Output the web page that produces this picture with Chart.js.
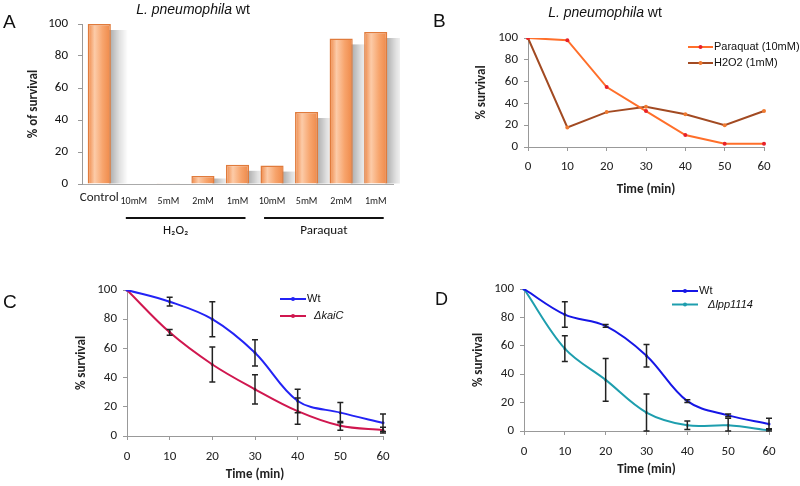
<!DOCTYPE html>
<html>
<head>
<meta charset="utf-8">
<script src="https://cdn.jsdelivr.net/npm/chart.js@4.4.1/dist/chart.umd.min.js"></script>
<style>
    body { margin: 0; background: #fff; }
    #wrap { position: relative; width: 800px; height: 486px; }
    canvas { position: absolute; }
</style>
</head>
<body>
<div id="wrap">
    <canvas id="chartA" width="400" height="245" style="left:0;top:0"></canvas>
    <canvas id="chartB" width="400" height="200" style="left:400px;top:0"></canvas>
    <canvas id="chartC" width="400" height="246" style="left:0;top:240px"></canvas>
    <canvas id="chartD" width="400" height="246" style="left:400px;top:240px"></canvas>
</div>
<script>
// --- dati ---
const aCategories = ["Control", "10mM", "5mM", "2mM", "1mM", "10mM", "5mM", "2mM", "1mM"];
const aSurvival = [100, 0, 0.5, 5, 12, 11.5, 45, 91, 95];
const aGroups = ["H\u2082O\u2082", "Paraquat"];

const timeLabels = ["0", "10", "20", "30", "40", "50", "60"];
const yTicks = [0, 20, 40, 60, 80, 100];

const bParaquat = [100, 98, 55, 33, 11, 3, 3];
const bH2O2 = [100, 18, 32, 37, 30, 20, 33];

const cWt = [100, 92, 80, 57, 24, 16, 9];
const cWtErr = [0, 3, 12, 9, 8, 7, 6];
const cKaiC = [100, 71, 49, 32, 17, 7, 4];
const cKaiCErr = [0, 2, 12, 10, 9, 3, 2];

const dWt = [100, 82, 74, 53, 21, 11, 5];
const dWtErr = [0, 9, 1, 8, 1, 1, 4];
const dLpp = [100, 58, 36, 13, 4, 4, 0.5];
const dLppErr = [0, 9, 15, 13, 3, 5, 1];

const FONT = "Carlito, Lato, 'Liberation Sans', sans-serif";
const ARIAL = "'Liberation Sans', Arial, sans-serif";

// lettera del pannello e titolo (parte in corsivo)
const panelDecor = {
    id: "panelDecor",
    afterDraw(chart, args, opts) {
        const ctx = chart.ctx;
        ctx.save();
        ctx.fillStyle = "#111";
        ctx.textAlign = "left";
        ctx.textBaseline = "alphabetic";
        ctx.font = opts.letterSize + "px " + ARIAL;
        ctx.fillText(opts.letter, opts.letterX, opts.letterY);
        if (opts.title) {
            const fonts = opts.title.map(p => (p[1] ? "italic " : "") + "14px " + ARIAL);
            const widths = opts.title.map((p, i) => { ctx.font = fonts[i]; return ctx.measureText(p[0]).width; });
            let x = opts.titleX - widths.reduce((a, b) => a + b, 0) / 2;
            ctx.textBaseline = "middle";
            opts.title.forEach((p, i) => {
                ctx.font = fonts[i];
                ctx.fillText(p[0], x, opts.titleY);
                x += widths[i];
            });
        }
        ctx.restore();
    }
};

// legenda stile Excel: linea con marcatore e testo
const lineLegend = {
    id: "lineLegend",
    afterDraw(chart, args, opts) {
        const ctx = chart.ctx;
        ctx.save();
        chart.data.datasets.forEach((ds, i) => {
            const y = opts.y + i * opts.rowGap;
            const x0 = opts.x, x1 = opts.x + opts.lineLen;
            ctx.strokeStyle = ds.borderColor;
            ctx.lineWidth = 2;
            ctx.beginPath();
            ctx.moveTo(x0, y);
            ctx.lineTo(x1, y);
            ctx.stroke();
            ctx.fillStyle = ds.pointBackgroundColor;
            ctx.beginPath();
            ctx.arc((x0 + x1) / 2, y, 2, 0, Math.PI * 2);
            ctx.fill();
            ctx.fillStyle = "#111";
            ctx.font = (ds.legendItalic ? "italic " : "") + "11px " + ARIAL;
            ctx.textBaseline = "middle";
            ctx.textAlign = "left";
            ctx.fillText(ds.label, x1 + (ds.legendGap || 1), y);
        });
        ctx.restore();
    }
};

// barre di errore
const errorBars = {
    id: "errorBars",
    afterDatasetsDraw(chart) {
        const ctx = chart.ctx, yScale = chart.scales.y, area = chart.chartArea;
        ctx.save();
        ctx.strokeStyle = "#222";
        ctx.lineWidth = 1.5;
        chart.data.datasets.forEach((ds, i) => {
            if (!ds.errors) return;
            const meta = chart.getDatasetMeta(i);
            ds.errors.forEach((err, j) => {
                if (!err) return;
                const x = meta.data[j].x;
                const v = ds.data[j];
                const top = yScale.getPixelForValue(v + err);
                const bot = Math.min(yScale.getPixelForValue(v - err), area.bottom);
                ctx.beginPath();
                ctx.moveTo(x, top);
                ctx.lineTo(x, bot);
                ctx.moveTo(x - 3, top);
                ctx.lineTo(x + 3, top);
                ctx.moveTo(x - 3, bot);
                ctx.lineTo(x + 3, bot);
                ctx.stroke();
            });
        });
        ctx.restore();
    }
};

// linee e nomi dei gruppi sotto l'asse x (pannello A)
const groupLabels = {
    id: "groupLabels",
    afterDraw(chart, args, opts) {
        const ctx = chart.ctx, x = chart.scales.x;
        ctx.save();
        opts.groups.forEach((g, i) => {
            const a = x.getPixelForTick(g.from) - opts.overhang;
            const b = x.getPixelForTick(g.to) + opts.overhang;
            ctx.strokeStyle = "#111";
            ctx.lineWidth = 2;
            ctx.beginPath();
            ctx.moveTo(a, opts.lineY);
            ctx.lineTo(b, opts.lineY);
            ctx.stroke();
            ctx.fillStyle = "#111";
            ctx.font = "13px " + FONT;
            ctx.textAlign = "center";
            ctx.textBaseline = "middle";
            ctx.fillText(aGroups[i], (a + b) / 2 + (g.shift || 0), opts.textY);
        });
        ctx.restore();
    }
};

// ombra grigia sfumata a destra di ogni barra
const barShadow = {
    id: "barShadow",
    beforeDatasetsDraw(chart) {
        const ctx = chart.ctx;
        const meta = chart.getDatasetMeta(0);
        ctx.save();
        meta.data.forEach(bar => {
            const p = bar.getProps(["x", "y", "base", "width"], true);
            const h = p.base - p.y;
            if (h < 3) return;
            const r = p.x + p.width / 2;
            const g = ctx.createLinearGradient(r, 0, r + 17, 0);
            g.addColorStop(0, "rgba(0,0,0,0.30)");
            g.addColorStop(0.5, "rgba(0,0,0,0.12)");
            g.addColorStop(1, "rgba(0,0,0,0)");
            ctx.fillStyle = g;
            ctx.fillRect(r - 2, p.y + Math.min(6, h / 3), 19, h - Math.min(6, h / 3));
        });
        ctx.restore();
    }
};

function barGradient(c) {
    const ch = c.chart;
    if (!ch.chartArea) return "#F6A56E";
    const xs = ch.scales.x;
    const x = xs.getPixelForValue(c.dataIndex);
    const w = (xs.getPixelForValue(1) - xs.getPixelForValue(0)) * 0.67;
    const g = ch.ctx.createLinearGradient(x - w / 2, 0, x + w / 2, 0);
    g.addColorStop(0, "#EE8644");
    g.addColorStop(0.3, "#FCCBA8");
    g.addColorStop(0.65, "#F7A46C");
    g.addColorStop(1, "#EE8848");
    return g;
}

function lineScales(o) {
    return {
        x: {
            grid: { display: true, drawOnChartArea: false, tickLength: 4, color: "#999" },
            border: { color: "#999" },
            ticks: { font: { family: FONT, size: 13 }, color: "#222", padding: o.xPad, maxRotation: 0 },
            title: { display: true, text: "Time (min)", font: { family: FONT, size: 13, weight: "bold" }, color: "#222", padding: { top: 0, bottom: o.xTitlePad } },
            afterFit: s => { s.height = o.xHeight; }
        },
        y: {
            min: 0, max: 100,
            afterBuildTicks: s => { s.ticks = yTicks.map(v => ({ value: v })); },
            grid: { display: true, drawOnChartArea: false, tickLength: 4, color: "#999" },
            border: { color: "#999" },
            ticks: { font: { family: FONT, size: 13 }, color: "#222", padding: 6 },
            title: { display: true, text: "% survival", font: { family: FONT, size: 13, weight: "bold" }, color: "#222", padding: 0 },
            afterFit: s => { s.width = o.yWidth; }
        }
    };
}

// --- Pannello A ---
new Chart(document.getElementById("chartA"), {
    type: "bar",
    data: {
        labels: aCategories,
        datasets: [{
            data: aSurvival,
            backgroundColor: barGradient,
            borderColor: "#E07B3C",
            borderWidth: 1.5,
            barPercentage: 0.67,
            categoryPercentage: 1
        }]
    },
    options: {
        responsive: false,
        animation: false,
        layout: { padding: { left: 26, top: 24, right: 7, bottom: 0 } },
        plugins: {
            legend: { display: false },
            tooltip: { enabled: false },
            panelDecor: { letter: "A", letterSize: 19, letterX: 3, letterY: 28, title: [["L. pneumophila", true], [" wt", false]], titleX: 193, titleY: 10 },
            groupLabels: { groups: [{ from: 1, to: 4, shift: -10 }, { from: 5, to: 8, shift: 0 }], overhang: 8, lineY: 218, textY: 231 }
        },
        scales: {
            x: {
                grid: { display: false, drawTicks: false },
                border: { color: "#aaa" },
                ticks: {
                    font: c => (c.index === 0 ? { family: FONT, size: 13 } : { family: FONT, size: 10, lineHeight: "22px" }),
                    color: "#222", padding: 6, autoSkip: false, maxRotation: 0
                },
                afterFit: s => { s.height = 61; }
            },
            y: {
                min: 0, max: 100,
                afterBuildTicks: s => { s.ticks = yTicks.map(v => ({ value: v })); },
                grid: { display: true, drawOnChartArea: false, tickLength: 4, color: "#999" },
                border: { color: "#999" },
                ticks: { font: { family: FONT, size: 13 }, color: "#111", padding: 10 },
                title: { display: true, text: "% of survival", font: { family: FONT, size: 13, weight: "bold" }, color: "#222", padding: 0 },
                afterFit: s => { s.width = 56; }
            }
        }
    },
    plugins: [barShadow, panelDecor, groupLabels]
});

// --- Pannello B ---
new Chart(document.getElementById("chartB"), {
    type: "line",
    data: {
        labels: timeLabels,
        datasets: [
            { label: "Paraquat (10mM)", data: bParaquat, borderColor: "#FF6F2A", borderWidth: 2, pointRadius: 2, pointBorderWidth: 0, pointBackgroundColor: "#E8202A", tension: 0 },
            { label: "H2O2 (1mM)", data: bH2O2, borderColor: "#A24A22", borderWidth: 2, pointRadius: 2, pointBorderWidth: 0, pointBackgroundColor: "#F07A30", tension: 0 }
        ]
    },
    options: {
        responsive: false,
        animation: false,
        layout: { padding: { left: 74, top: 38, right: 36, bottom: 0 } },
        plugins: {
            legend: { display: false },
            tooltip: { enabled: false },
            panelDecor: { letter: "B", letterSize: 19, letterX: 33, letterY: 27, title: [["L. pneumophila", true], [" wt", false]], titleX: 205, titleY: 13 },
            lineLegend: { x: 288, y: 47, lineLen: 25, rowGap: 16 }
        },
        scales: lineScales({ xPad: 8, xHeight: 53, xTitlePad: 2, yWidth: 54 })
    },
    plugins: [panelDecor, lineLegend]
});

// --- Pannello C ---
new Chart(document.getElementById("chartC"), {
    type: "line",
    data: {
        labels: timeLabels,
        datasets: [
            { label: "Wt", data: cWt, errors: cWtErr, borderColor: "#2323F5", borderWidth: 2, pointRadius: 1.5, pointBorderWidth: 0, pointBackgroundColor: "#2323F5", tension: 0.35 },
            { label: "\u0394kaiC", data: cKaiC, errors: cKaiCErr, legendItalic: true, legendGap: 8, borderColor: "#D0174F", borderWidth: 2, pointRadius: 1.5, pointBorderWidth: 0, pointBackgroundColor: "#D0174F", tension: 0.35 }
        ]
    },
    options: {
        responsive: false,
        animation: false,
        layout: { padding: { left: 74, top: 50, right: 17, bottom: 0 } },
        plugins: {
            legend: { display: false },
            tooltip: { enabled: false },
            panelDecor: { letter: "C", letterSize: 19, letterX: 3, letterY: 68 },
            lineLegend: { x: 280, y: 59, lineLen: 26, rowGap: 17 }
        },
        scales: lineScales({ xPad: 9, xHeight: 50, xTitlePad: 3, yWidth: 53 })
    },
    plugins: [panelDecor, lineLegend, errorBars]
});

// --- Pannello D ---
new Chart(document.getElementById("chartD"), {
    type: "line",
    data: {
        labels: timeLabels,
        datasets: [
            { label: "Wt", data: dWt, errors: dWtErr, borderColor: "#1616E6", borderWidth: 2, pointRadius: 1.5, pointBorderWidth: 0, pointBackgroundColor: "#1616E6", tension: 0.35 },
            { label: "\u0394lpp1114", data: dLpp, errors: dLppErr, legendItalic: true, legendGap: 10, borderColor: "#1E9EAE", borderWidth: 2, pointRadius: 1.5, pointBorderWidth: 0, pointBackgroundColor: "#1E9EAE", tension: 0.35 }
        ]
    },
    options: {
        responsive: false,
        animation: false,
        layout: { padding: { left: 71, top: 49, right: 31, bottom: 0 } },
        plugins: {
            legend: { display: false },
            tooltip: { enabled: false },
            panelDecor: { letter: "D", letterSize: 18, letterX: 35, letterY: 65 },
            lineLegend: { x: 272, y: 51, lineLen: 26, rowGap: 13.5 }
        },
        scales: lineScales({ xPad: 9, xHeight: 55, xTitlePad: 8, yWidth: 53 })
    },
    plugins: [panelDecor, lineLegend, errorBars]
});
</script>
</body>
</html>
